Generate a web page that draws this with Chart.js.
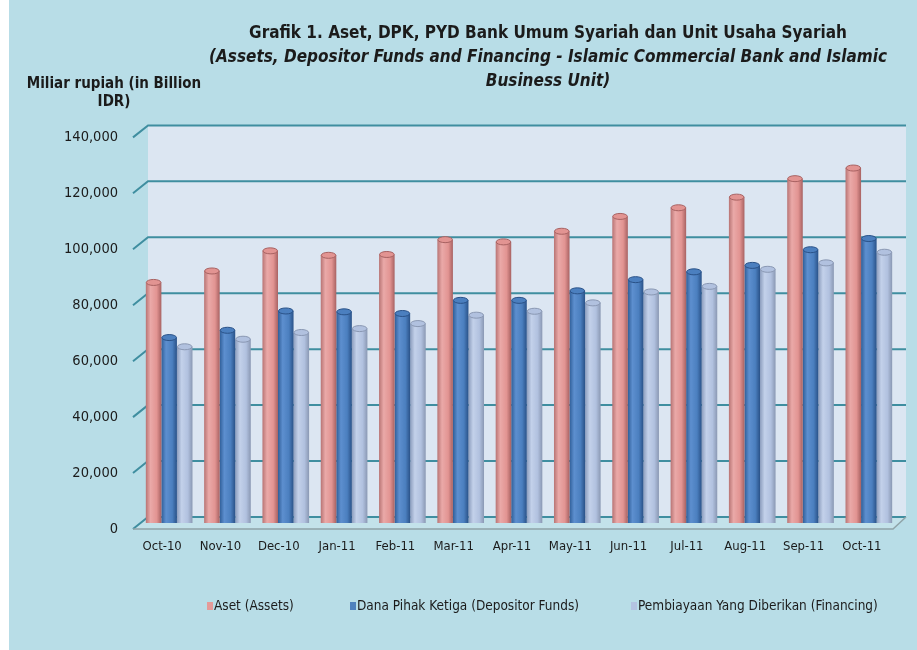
<!DOCTYPE html>
<html>
<head>
<meta charset="utf-8">
<script src="https://cdn.jsdelivr.net/npm/chart.js@4/dist/chart.umd.min.js"></script>
<style>
  html, body { margin: 0; padding: 0; background: #ffffff; }
  #panel { position: absolute; left: 9px; top: 0; width: 908px; height: 650px; background: #b8dde7; }
</style>
</head>
<body>
<div id="panel"><canvas id="grafik" width="908" height="650"></canvas></div>
<script>
// data (miliar rupiah)
var categories = ['Oct-10', 'Nov-10', 'Dec-10', 'Jan-11', 'Feb-11', 'Mar-11', 'Apr-11', 'May-11', 'Jun-11', 'Jul-11', 'Aug-11', 'Sep-11', 'Oct-11'];
var aset = [86000, 90100, 97300, 95700, 96000, 101300, 100500, 104300, 109600, 112700, 116500, 123100, 126900];
var dpk = [66300, 68900, 75800, 75500, 74900, 79600, 79600, 83000, 87000, 89800, 92100, 97700, 101700];
var pyd = [63000, 65700, 68100, 69500, 71300, 74300, 75700, 78700, 82600, 84600, 90700, 93000, 96800];
var seriesNames = ['Aset (Assets)', 'Dana Pihak Ketiga (Depositor Funds)', 'Pembiayaan Yang Diberikan (Financing)'];
var yTicks = [0, 20000, 40000, 60000, 80000, 100000, 120000, 140000];

var FONT = "'Liberation Sans Narrow', 'Arial Narrow', 'DejaVu Sans Condensed', 'Liberation Sans', sans-serif";
var TEXT = '#1b1b1b';

// cylinder shading: dark edge, light, base, dark edge
var shades = [
    ['#b87474', '#eaa9a8', '#e29492', '#a86262'],
    ['#2f5e98', '#5d8fcf', '#4b7fbf', '#2a5288'],
    ['#8c9dbd', '#c3d1ea', '#b1c1df', '#8a98b3']
];
var baseColors = ['#e49a99', '#4f81bd', '#b3c3e1'];

function cylinder(datasetIndex) {
    return function (c) {
        var chart = c.chart;
        var x = chart.scales.x;
        if (!chart.chartArea || !x || c.dataIndex === undefined) return baseColors[datasetIndex];
        var cat = (x.right - x.left) / categories.length;
        var bw = cat * 0.8 / 3;
        var cx = x.getPixelForValue(c.dataIndex) + (datasetIndex - 1) * bw;
        var g = chart.ctx.createLinearGradient(cx - bw / 2, 0, cx + bw / 2, 0);
        var s = shades[datasetIndex];
        g.addColorStop(0, s[0]);
        g.addColorStop(0.3, s[1]);
        g.addColorStop(0.7, s[2]);
        g.addColorStop(1, s[3]);
        return g;
    };
}

// back wall, grid lines and floor, drawn off the y scale
var wallPlugin = {
    id: 'wall',
    beforeDatasetsDraw: function (chart) {
        var ctx = chart.ctx, a = chart.chartArea, y = chart.scales.y;
        var dx = 8, dy = -6;
        var top = y.getPixelForValue(140000), bot = y.getPixelForValue(0);
        ctx.save();
        ctx.fillStyle = '#dce6f2';
        ctx.fillRect(a.left + dx, top + dy, a.right - a.left, bot - top);
        // floor
        ctx.fillStyle = '#c3e2ea';
        ctx.beginPath();
        ctx.moveTo(a.left - 7, bot + 6);
        ctx.lineTo(a.right - 5, bot + 6);
        ctx.lineTo(a.right + dx, bot + dy);
        ctx.lineTo(a.left + dx, bot + dy);
        ctx.closePath();
        ctx.fill();
        ctx.strokeStyle = '#3f8ea0';
        ctx.lineWidth = 2;
        yTicks.forEach(function (v) {
            var p = y.getPixelForValue(v);
            ctx.beginPath();
            ctx.moveTo(a.left - 7, p + 6);
            ctx.lineTo(a.left + dx, p + dy);
            ctx.lineTo(a.right + dx, p + dy);
            ctx.stroke();
        });
        ctx.strokeStyle = '#8fa3a8';
        ctx.lineWidth = 1.5;
        ctx.beginPath();
        ctx.moveTo(a.left - 7, bot + 6);
        ctx.lineTo(a.right - 5, bot + 6);
        ctx.lineTo(a.right + dx, bot + dy);
        ctx.stroke();
        ctx.restore();
    },
    afterDatasetsDraw: function (chart) {
        // elliptic caps on top of each cylinder
        var ctx = chart.ctx;
        ctx.save();
        chart.data.datasets.forEach(function (ds, di) {
            chart.getDatasetMeta(di).data.forEach(function (el) {
                var p = el.getProps(['x', 'y', 'width'], true);
                ctx.fillStyle = shades[di][2];
                ctx.strokeStyle = shades[di][3];
                ctx.lineWidth = 1;
                ctx.beginPath();
                ctx.ellipse(p.x, p.y, p.width / 2 - 0.5, 3, 0, 0, Math.PI * 2);
                ctx.fill();
                ctx.stroke();
            });
        });
        ctx.restore();
    }
};

// unit label and legend
var textPlugin = {
    id: 'extraText',
    afterLayout: function (chart) {
        chart.boxes.forEach(function (b) {
            if (b.position === 'top' && b.options && b.options.text !== undefined) {
                var w = b.right - b.left;
                b.left = 539 - w / 2;
                b.right = 539 + w / 2;
            }
        });
    },
    afterDraw: function (chart) {
        var ctx = chart.ctx;
        ctx.save();
        ctx.fillStyle = TEXT;
        ctx.font = 'bold 15px ' + FONT;
        ctx.textAlign = 'center';
        ctx.textBaseline = 'middle';
        ctx.fillText('Miliar rupiah (in Billion', 105, 84);
        ctx.fillText('IDR)', 105, 102);

        var xs = [198, 341, 622];
        ctx.font = '13.5px ' + FONT;
        ctx.textAlign = 'left';
        chart.data.datasets.forEach(function (ds, i) {
            ctx.fillStyle = baseColors[i];
            ctx.fillRect(xs[i], 602, 6, 8);
            ctx.fillStyle = TEXT;
            ctx.fillText(ds.label, xs[i] + 7, 606);
        });
        ctx.restore();
    }
};

var ctx = document.getElementById('grafik').getContext('2d');
var grafik = new Chart(ctx, {
    type: 'bar',
    data: {
        labels: categories,
        datasets: [
            { label: seriesNames[0], data: aset, backgroundColor: cylinder(0) },
            { label: seriesNames[1], data: dpk, backgroundColor: cylinder(1) },
            { label: seriesNames[2], data: pyd, backgroundColor: cylinder(2) }
        ]
    },
    options: {
        responsive: false,
        animation: false,
        devicePixelRatio: 1,
        layout: { padding: { left: 0, right: 19, top: 0, bottom: 0 } },
        datasets: { bar: { categoryPercentage: 0.8, barPercentage: 1.0, borderWidth: 0 } },
        plugins: {
            legend: { display: false },
            tooltip: { enabled: false },
            title: {
                display: true,
                text: 'Grafik 1. Aset, DPK, PYD Bank Umum Syariah dan Unit Usaha Syariah',
                color: TEXT,
                font: { family: FONT, size: 17, weight: 'bold', lineHeight: 1.4 },
                padding: { top: 22, bottom: 0 }
            },
            subtitle: {
                display: true,
                text: ['(Assets, Depositor Funds and Financing - Islamic Commercial Bank and Islamic', 'Business Unit)'],
                color: TEXT,
                font: { family: FONT, size: 17, weight: 'bold', style: 'italic', lineHeight: 1.4 },
                padding: { top: 0, bottom: 38 }
            }
        },
        scales: {
            x: {
                grid: { display: false },
                border: { display: false },
                ticks: { color: TEXT, font: { family: FONT, size: 13 }, padding: 8, labelOffset: -7, maxRotation: 0 },
                afterFit: function (s) { s.height = 127; }
            },
            y: {
                min: 0,
                max: 140000,
                grid: { display: false },
                border: { display: false },
                ticks: {
                    stepSize: 20000,
                    color: TEXT,
                    padding: 14,
                    labelOffset: 6,
                    font: { family: FONT, size: 14.5 },
                    callback: function (v) { return v.toLocaleString('en-US'); }
                },
                afterFit: function (s) { s.width = 131; }
            }
        }
    },
    plugins: [wallPlugin, textPlugin]
});
</script>
</body>
</html>
